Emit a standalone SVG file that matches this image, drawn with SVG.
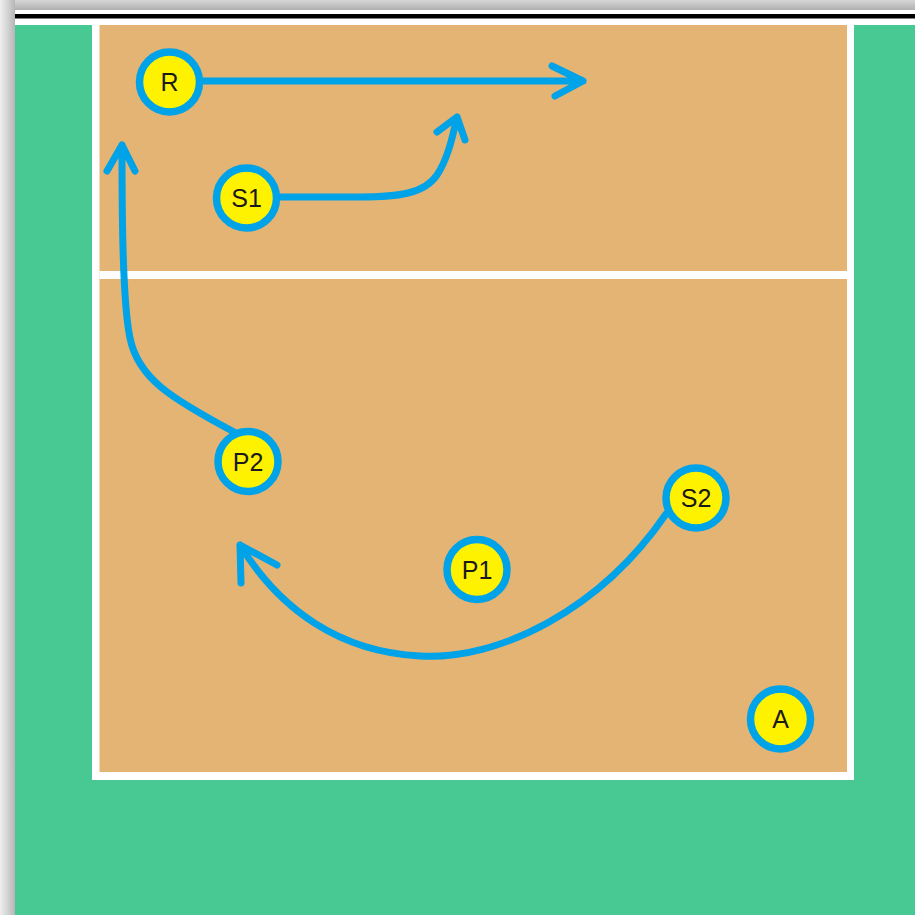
<svg xmlns="http://www.w3.org/2000/svg" width="915" height="915" viewBox="0 0 915 915">
  <defs>
    <style>
      .player circle { fill: #FFF200; stroke: #00A2E8; stroke-width: 7.5; }
      .player text { font-family: "Liberation Sans", Arial, sans-serif; font-size: 25px; fill: #1a1a1a; text-anchor: middle; dominant-baseline: central; }
      .conn path { fill: none; stroke: #00A2E8; stroke-width: 7; stroke-linecap: round; stroke-linejoin: round; }
    </style>
    <linearGradient id="topGrad" x1="0" y1="0" x2="0" y2="1">
      <stop offset="0" stop-color="#d6d6d6"/>
      <stop offset="1" stop-color="#b0b0b0"/>
    </linearGradient>
    <linearGradient id="leftGrad" x1="0" y1="0" x2="1" y2="0">
      <stop offset="0" stop-color="#eeeeee"/>
      <stop offset="0.5" stop-color="#d4d4d4"/>
      <stop offset="1" stop-color="#b5b5b5"/>
    </linearGradient>
  </defs>

  <!-- frame -->
  <rect x="0" y="0" width="915" height="915" fill="#ffffff"/>
  <rect x="0" y="0" width="915" height="10" fill="url(#topGrad)"/>
  <rect x="0" y="0" width="15" height="915" fill="url(#leftGrad)"/>
  <rect x="15" y="14" width="900" height="4.5" fill="#000000"/>

  <!-- floor -->
  <rect x="15" y="25" width="900" height="890" fill="#48C994"/>

  <!-- court -->
  <rect x="92" y="25" width="762" height="755" fill="#ffffff"/>
  <rect x="99.5" y="25" width="747.5" height="747" fill="#E4B474"/>
  <rect x="99.5" y="271" width="747.5" height="8" fill="#ffffff"/>

  <!-- connectors -->
  <g id="connectors" class="conn">
    <path d="M 203 81 L 583 81 M 552 66 L 583 81 L 555 96"/>
    <path d="M 280 197 L 360 197 C 400 197, 425 193, 437 175 C 447 160, 452 140, 457 117 M 437 132 L 457 117 L 465 140"/>
    <path d="M 236 433 C 170 398, 138 378, 130 338 C 122 300, 122 200, 122 145 M 107 171 L 122 145 L 135 171"/>
    <path d="M 666 514 C 600 610, 500 660, 420 656 C 340 652, 280 610, 240 545 M 241 583 L 240 545 L 277 565"/>
  </g>

  <!-- players -->
  <g id="R" class="player"><circle cx="169.5" cy="82" r="30"/><text x="169.5" y="82">R</text></g>
  <g id="S1" class="player"><circle cx="246.5" cy="198" r="30"/><text x="246.5" y="198">S1</text></g>
  <g id="P2" class="player"><circle cx="248" cy="461.5" r="30"/><text x="248" y="461.5">P2</text></g>
  <g id="P1" class="player"><circle cx="477" cy="569.5" r="30"/><text x="477" y="569.5">P1</text></g>
  <g id="S2" class="player"><circle cx="696" cy="498" r="30"/><text x="696" y="498">S2</text></g>
  <g id="A" class="player"><circle cx="780.5" cy="719" r="30"/><text x="780.5" y="719">A</text></g>
</svg>
